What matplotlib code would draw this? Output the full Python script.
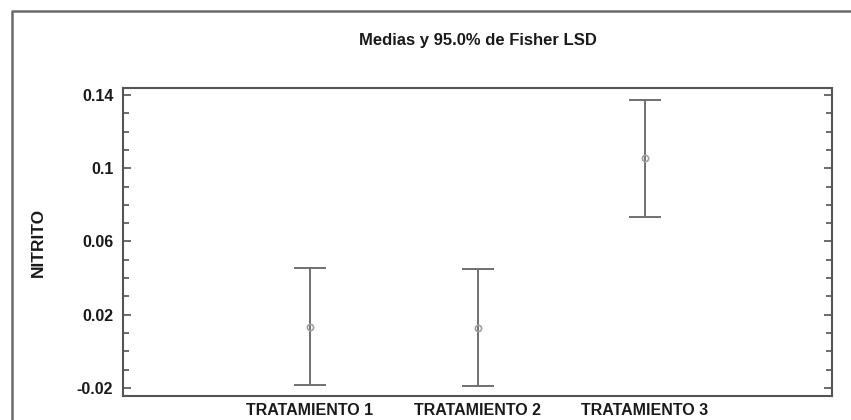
#means plot with 95% Fisher LSD intervals for nitrite by treatment

import numpy as np
import matplotlib.pyplot as plt
from matplotlib.lines import Line2D
from matplotlib.ticker import MultipleLocator

# data
treatments = ["TRATAMIENTO 1", "TRATAMIENTO 2", "TRATAMIENTO 3"]
means = [0.0133, 0.0127, 0.1053]
lower = [-0.0182, -0.0188, 0.0735]
upper = [0.0453, 0.0448, 0.1371]
yticks = [-0.02, 0.02, 0.06, 0.1, 0.14]
ytick_labels = ["-0.02", "0.02", "0.06", "0.1", "0.14"]

plt.rcParams['font.family'] = ['Liberation Sans', 'DejaVu Sans']

W, H = 851, 420
fig = plt.figure(figsize=(W / 100, H / 100), dpi=100)
ax = fig.add_axes([123 / W, 24 / H, 709 / W, 308 / H])

x = np.arange(1, len(treatments) + 1)
m = np.array(means)
err = [m - np.array(lower), np.array(upper) - m]
gray = "#707070"
ax.errorbar(x, m, yerr=err, fmt="none", ecolor=gray, elinewidth=1.4,
            capsize=11.5, capthick=1.4)
ax.plot(x, m, "o", ms=4.5, mfc="none", mec="#a0a0a0", mew=1.2)

ax.set_xlim(-0.116, 4.116)
ax.set_ylim(-0.0244, 0.1438)
ax.set_xticks(x)
ax.set_xticklabels(treatments, fontsize=11.5, fontweight="bold", color="#1a1a1a")
ax.set_yticks(yticks)
ax.set_yticklabels(ytick_labels, fontsize=11.5, fontweight="bold", color="#1a1a1a")
ax.yaxis.set_minor_locator(MultipleLocator(0.01))

ax.tick_params(axis="x", length=0, pad=5)
ax.tick_params(axis="y", which="major", direction="in", length=6, width=1.3,
               color="#606060", left=True, right=True, pad=7)
ax.tick_params(axis="y", which="minor", direction="in", length=4, width=1.3,
               color="#606060", left=True, right=True)
for s in ax.spines.values():
    s.set_color("#555555")
    s.set_linewidth(1.5)

fig.text(477.5 / W, 1 - 40 / H, "Medias y 95.0% de Fisher LSD", ha="center", va="center",
         fontsize=12, fontweight="bold", color="#1a1a1a")
fig.text(38 / W, 1 - 242 / H, "NITRITO", ha="center", va="center", rotation=90,
         fontsize=12.5, fontweight="bold", color="#1a1a1a")

# outer frame (left and top edges only visible)
fx, fy = 11.5 / W, 1 - 11 / H
fig.add_artist(Line2D([fx, fx, 1.0], [0.0, fy, fy], color="#6a6a6a", lw=1.8))

fig.savefig("out.png", dpi=100)
